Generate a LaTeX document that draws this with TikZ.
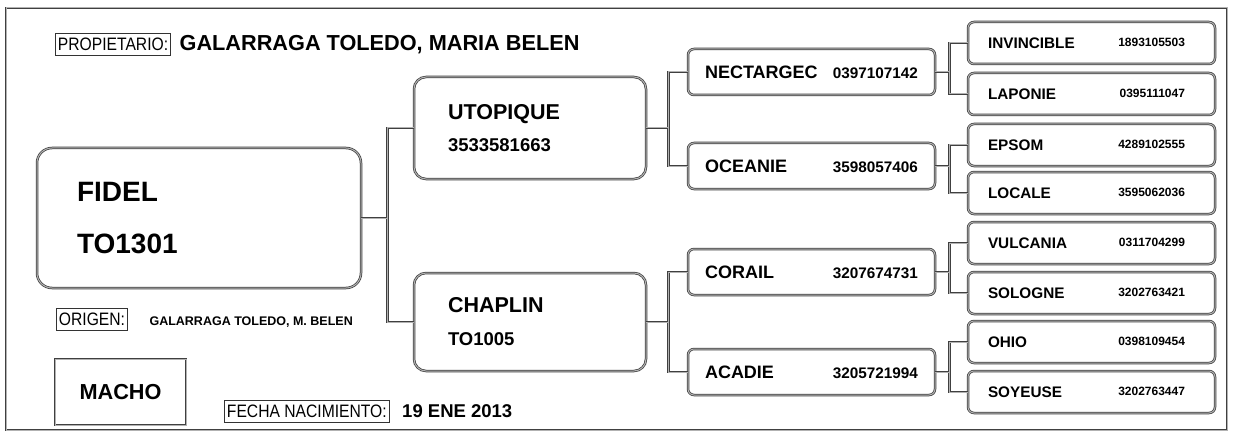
\documentclass[tikz,border=0pt]{standalone}
\usepackage{fontspec}
\setmainfont{Liberation Sans}
\newfontfamily\narrowfont[FakeStretch=0.87]{Liberation Sans}
\usetikzlibrary{positioning}
\newcommand\setsz[1]{\fontsize{#1}{#1}\selectfont}

\begin{document}
\begin{tikzpicture}[x=1pt, y=-1pt,
  rim/.style={draw=black!75, line width=0.75pt, double=black!30, double distance=1pt},
  conn/.style={rim},
  tag/.style={draw=black!80, line width=0.9pt, inner xsep=2.5pt, inner ysep=0pt,
    minimum height=22pt, font=\narrowfont\setsz{18}},
  sire/.style={rim, rounded corners=12pt, minimum width=232pt, inner xsep=34pt,
    text width=164pt, align=left},
  horse/.style={rim, rounded corners=6pt, minimum width=247pt, minimum height=46pt,
    inner xsep=17pt, inner ysep=0pt, text width=213pt, font=\bfseries\setsz{18}},
  anc/.style={rim, rounded corners=6pt, minimum width=247pt, minimum height=42pt,
    inner xsep=20pt, inner ysep=0pt, text width=207pt, font=\bfseries\setsz{15.3}}]

  \useasboundingbox (0,0) rectangle (1234,433);

  % --- Frame ---
  \draw[conn] (6,8) rectangle (1227,430);

  % --- Owner ---
  \node[tag, anchor=west] (prop) at (55,44) {PROPIETARIO:};
  \node[anchor=base west, font=\bfseries\setsz{21.7}] (owner)
    at ([xshift=5pt]prop.base east) {GALARRAGA TOLEDO, MARIA BELEN};

  % --- Subject ---
  \node[rim, rounded corners=15pt, minimum width=324pt, minimum height=140pt,
    inner xsep=40pt, text width=244pt, align=left,
    font=\bfseries\fontsize{28}{52}\selectfont] (fidel) at (199,218) {FIDEL\\TO1301};

  \node[tag, anchor=west] (orig) at (56,319) {ORIGEN:};
  \node[anchor=base west, font=\bfseries\setsz{12.5}] (breeder)
    at ([xshift=18pt]orig.base east) {GALARRAGA TOLEDO, M. BELEN};

  \node[rim, minimum width=131pt, minimum height=66pt, font=\bfseries\setsz{21.7}]
    (sex) at (120.5,392) {MACHO};

  \node[tag, anchor=west] (born) at (224,411.5) {FECHA NACIMIENTO:};
  \node[anchor=base west, font=\bfseries\setsz{18.5}] (date)
    at ([xshift=9pt]born.base east) {19 ENE 2013};

  % --- Parents ---
  \node[sire, minimum height=102pt, font=\bfseries\fontsize{21.5}{32}\selectfont]
    (utop) at (530,128) {UTOPIQUE\\{\setsz{18.5}3533581663}};
  \node[sire, minimum height=98pt, font=\bfseries\fontsize{21.5}{33}\selectfont]
    (chap) at (530,322) {CHAPLIN\\{\setsz{18.5}TO1005}};

  % --- Grandparents ---
  \foreach \i/\nm/\num/\yy in {1/NECTARGEC/0397107142/72, 2/OCEANIE/3598057406/166,
                               3/CORAIL/3207674731/272, 4/ACADIE/3205721994/372} {
    \node[horse] (m\i) at (811.5,\yy) {\nm\hfill{\setsz{15.3}\num}};
  }

  % --- Great-grandparents ---
  \foreach \i/\nm/\num/\yy in {1/INVINCIBLE/1893105503/43, 2/LAPONIE/0395111047/94,
                               3/EPSOM/4289102555/145, 4/LOCALE/3595062036/193,
                               5/VULCANIA/0311704299/243, 6/SOLOGNE/3202763421/293,
                               7/OHIO/0398109454/342, 8/SOYEUSE/3202763447/392} {
    \node[anc] (g\i) at (1091.5,\yy) {\nm\hfill\raisebox{2pt}{\setsz{12}\num}\kern10pt};
  }

  % --- Links ---
  \draw[conn] (fidel.east) -- ++(26,0) coordinate (k) |- (utop.west) (k) |- (chap.west);
  \foreach \p/\a/\b in {utop/m1/m2, chap/m3/m4} {
    \draw[conn] (\p.east) -- ++(22,0) coordinate (k) |- (\a.west) (k) |- (\b.west);
  }
  \foreach \p/\a/\b in {m1/g1/g2, m2/g3/g4, m3/g5/g6, m4/g7/g8} {
    \draw[conn] (\p.east) -- ++(14,0) coordinate (k) |- (\a.west) (k) |- (\b.west);
  }

\end{tikzpicture}
\end{document}
